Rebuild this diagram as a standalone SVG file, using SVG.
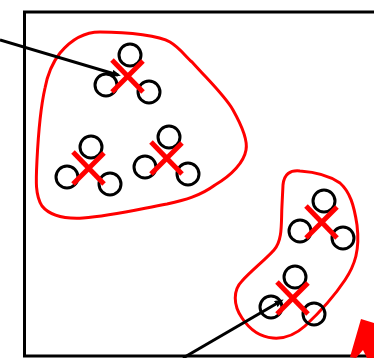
<svg xmlns="http://www.w3.org/2000/svg" width="374" height="358" viewBox="0 0 374 358">
<style>
.frame{fill:none;stroke:#000;stroke-width:3}
.blob{fill:none;stroke:#f00;stroke-width:3}
.c{fill:none;stroke:#000;stroke-width:3}
.x{stroke:#f00;stroke-width:5}
.conn{stroke:#000;stroke-width:3;fill:none}
</style>
<defs>
<marker id="ah" markerWidth="3" markerHeight="2.4" refX="2" refY="1.2" orient="auto" markerUnits="strokeWidth">
<path d="M0,0 L3,1.2 L0,2.4 Z" fill="#000"/>
</marker>
<g id="cluster">
<circle class="c" cx="3" cy="-21" r="11"/>
<circle class="c" cx="-21" cy="9" r="11"/>
<circle class="c" cx="22" cy="16" r="11"/>
<line class="x" x1="-15" y1="-16" x2="16" y2="16"/>
<line class="x" x1="-15" y1="16" x2="16" y2="-15"/>
</g>
</defs>
<path class="frame" d="M376,12 H24.5 V356 H376"/>
<path class="blob" d="M60,53 C75,35 90,32 100,32 C130,32 160,36 170,42 C180,48 185,56 192,62 C210,82 225,96 233,110 C242,126 248,140 246,150 C244,162 232,175 215,185 C200,196 185,200 167,204 C135,210 110,216 83,218 C65,219 50,216 42,206 C35,195 36,180 37,160 C38,140 40,110 45,88 C48,72 53,62 60,53 Z"/>
<path class="blob" d="M283,185 C284,174 290,170 300,171 C315,172 330,176 340,183 C350,192 354,205 357,225 C360,250 355,265 345,280 C335,295 320,312 305,326 C295,335 285,339 273,338 C260,337 250,330 242,318 C233,305 233,290 242,281 C252,270 265,260 274,250 C283,240 281,222 282,205 Z"/>
<g id="g1"><use href="#cluster" x="127" y="76"/></g>
<g id="g2"><use href="#cluster" x="88" y="168"/></g>
<g id="g3"><use href="#cluster" x="166" y="158"/></g>
<g id="g4"><use href="#cluster" x="321" y="222"/></g>
<g id="g5"><use href="#cluster" x="292" y="298"/></g>
<g id="connectors">
<line class="conn" x1="0" y1="40" x2="118" y2="75" marker-end="url(#ah)"/>
<line class="conn" x1="183" y1="358" x2="281" y2="301" marker-end="url(#ah)"/>
</g>
<path d="M350,357 L361,319 L374,323 L374,358 L367,358 L363,350 L356,358 Z" fill="#f00"/>
</svg>
